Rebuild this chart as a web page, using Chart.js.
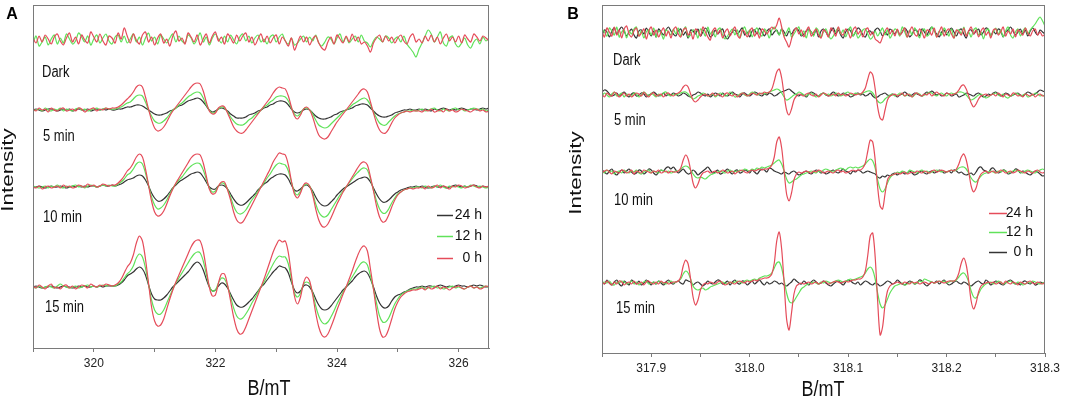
<!DOCTYPE html>
<html>
<head>
<meta charset="utf-8">
<script src="https://cdn.jsdelivr.net/npm/chart.js@4.4.1/dist/chart.umd.min.js"></script>
<style>
    html, body { margin: 0; padding: 0; background: #fff; }
    #wrap { position: relative; width: 1074px; height: 401px; }
    canvas { position: absolute; top: 0; }
    #chartA { left: 0; }
    #chartB { left: 537px; }
</style>
</head>
<body>
<div id="wrap">
    <canvas id="chartA" width="537" height="401"></canvas>
    <canvas id="chartB" width="537" height="401"></canvas>
</div>
<script>
// ---- data ----
// labels
const traceNames = ['Dark', '5 min', '10 min', '15 min'];
const legendLabels = ['24 h', '12 h', '0 h'];

// panel A: field sampled every 0.05 mT from 319 mT, values are signal above each trace's baseline
const aStart = 319, aStep = 0.05;
const aLevels = [308, 238, 161, 61];

const aDarkRed = [
    2,-3,4,-2,5,1,-4,3,6,-1, -5,2,7,-2,3,-4,5,0,-3,8, 3,-2,6,-1,-5,4,2,-3,7,1,
    12,4,-3,6,0,-4,5,8,-2,3, -5,2,6,-3,1,-6,4,9,-1,2, -4,7,3,-2,5,-5,1,6,-3,4,
    8,-1,3,-4,6,2,-3,5,-1,4, 7,-2,3,-5,1,6,-2,4,-3,2, 5,-4,3,-1,-6,2,-10,-3,4,-2,
    3,-5,1,4,-3,-8,-10,-2,3,-4, 5,1,-3,4,-2,6,-1,3,-4,-2, -6,-12,-3,2,5,-2,4,-1,3,-3,
    2,5,-1,-4,3,6,-2,1,-3,4, -1,5,-2,3,-4,2,6,-1,3,-2, 4,-3,5,1,-2,6,3,-1,4,2,-1
];
const aDarkGreen = [
    -3,4,-6,-2,3,-5,1,5,-4,2, -3,6,1,-4,-1,7,3,-2,4,-5, 1,5,-3,2,6,-1,-4,3,5,-2,
    4,-3,1,6,-2,3,-5,2,7,-1, 3,-4,5,1,-3,2,6,-2,4,-1, -3,5,2,-4,1,7,-2,3,-5,2,
    6,1,-3,4,-2,5,0,-4,3,6, -1,4,-3,2,5,-2,1,-4,3,5, -2,3,6,-1,-4,2,-5,-3,1,4,
    -2,3,-1,5,-3,-6,-2,3,1,-4, 2,6,-2,3,-3,1,4,-2,5,-1, -3,-7,-1,3,1,-2,4,2,-3,1,
    3,-2,4,-4,-8,-12,-17,-9,-3,4, 10,6,-2,3,8,-3,-6,2,4,-4, -7,-3,2,-5,-8,-2,1,-4,3,-1,2
];
const a5Red = [
    1,-1,2,0,1,-2,2,0,-1,1, 2,-1,0,1,-1,2,1,-2,0,1, 2,-1,1,0,2,1,2,
    2,3,5,8,11,14,18,23,25,23, 13,1,-10,-18,-21,-20,-17,-12,-6,-1,
    3,7,11,15,19,23,26,27,26,19, 8,-1,-4,-3,2,4,3,-3,-10,-17,
    -21,-23,-23,-20,-16,-12,-8,-4,0,4, 8,12,17,21,23,22,21,14,3,-6,
    -9,-5,1,3,0,-7,-17,-25,-28,-29, -27,-22,-17,-12,-8,-4,0,4,8,12,
    16,20,21,18,8,-3,-13,-20,-23,-23, -19,-13,-8,-5,-3,-2,-1,-2,-1,-1,
    -1,-2,0,-1,1,-2,-1,0,-2,1, -1,0,-2,-1,1,0,-1,-2,0,1, -1,0,-2,-1
];
const a5Green = [
    -1,0,1,-1,2,0,-1,1,0,2, -1,1,0,-1,1,2,0,1,-1,0, 1,2,0,1,2,1,1,
    1,2,3,5,7,8,11,14,15,14, 8,0,-6,-11,-13,-13,-11,-8,-4,0,
    2,5,7,10,13,15,17,18,17,12, 5,0,-3,-2,1,3,2,-2,-7,-11,
    -14,-15,-15,-13,-10,-8,-5,-3,0,3, 5,8,10,13,14,14,13,9,2,-4,
    -6,-3,1,2,0,-4,-10,-15,-17,-18, -17,-14,-11,-8,-5,-2,0,2,5,7,
    9,11,12,10,5,-2,-8,-13,-15,-15, -12,-9,-6,-4,-3,-2,-1,-1,0,-1,
    0,1,-1,0,1,2,0,-1,1,0, -1,1,2,0,1,-1,0,1,2,1, 0,1,-1,0
];
const a5Black = [
    0,1,0,-1,0,1,1,0,-1,0, 1,0,1,-1,0,1,0,0,1,-1, 0,1,0,1,0,1,0,
    0,1,1,2,3,3,4,5,5,4, 2,0,-2,-4,-5,-5,-4,-3,-1,0,
    2,4,5,7,9,10,11,12,11,8, 4,0,-2,-1,1,2,1,-1,-4,-6,
    -8,-8,-8,-7,-5,-4,-3,-1,0,2, 3,5,6,8,9,9,8,5,1,-2,
    -3,-2,0,1,0,-3,-6,-8,-9,-9, -8,-7,-5,-4,-2,-1,0,1,2,4,
    5,6,6,5,2,-1,-4,-6,-7,-7, -6,-5,-3,-2,-1,0,0,1,0,0,
    1,0,1,0,-1,1,0,1,2,1, 0,1,0,1,2,1,0,1,1,0, 1,2,1,2
];
const a10Red = [
    0,-1,1,-2,0,1,-1,0,1,-1, 2,0,1,-1,0,2,1,0,3,1, 2,0,1,3,2,1,2,
    2,4,7,11,16,19,24,30,33,30, 18,2,-14,-25,-29,-28,-24,-17,-9,-2,
    4,9,14,19,24,29,32,33,32,24, 11,-2,-7,-6,1,5,5,-3,-13,-25,
    -33,-36,-35,-30,-24,-18,-12,-6,0,6, 12,18,25,30,34,33,32,22,6,-7,
    -11,-6,2,4,1,-8,-22,-33,-39,-40, -37,-31,-24,-17,-11,-5,0,5,10,15,
    20,24,25,22,10,-4,-19,-30,-35,-34, -28,-20,-13,-8,-5,-3,-2,-1,-2,-1,
    -1,0,-2,1,-1,0,2,-1,1,0, -2,1,0,2,1,-1,0,1,2,0, -1,1,0,1
];
const a10Green = [
    1,0,-1,0,1,-1,1,0,2,0, -1,1,0,1,2,0,1,-1,1,2, 1,0,1,2,1,2,1,
    1,3,5,8,12,14,18,23,25,23, 14,2,-10,-18,-22,-21,-18,-13,-7,-1,
    3,7,10,14,18,21,23,24,23,17, 8,-1,-5,-4,1,4,3,-2,-10,-19,
    -25,-27,-26,-23,-18,-13,-9,-4,0,4, 9,13,18,22,24,23,22,16,5,-5,
    -8,-4,1,3,1,-6,-17,-25,-29,-30, -28,-23,-18,-13,-8,-4,0,4,8,12,
    15,18,19,17,8,-3,-14,-22,-26,-26, -22,-16,-11,-7,-5,-3,-2,-1,-1,0,
    0,-1,1,0,-1,1,0,2,0,-1, 1,0,1,0,-1,1,0,2,1,0, 1,0,-1,0
];
const a10Black = [
    0,0,1,0,-1,0,1,0,0,1, 0,-1,0,1,0,1,0,1,0,1, 1,0,1,2,1,1,2,
    1,2,3,5,7,8,9,11,12,11, 7,1,-6,-11,-14,-14,-12,-9,-5,-1,
    2,5,7,9,11,13,14,15,14,10, 5,0,-2,-2,1,2,1,-2,-7,-12,
    -16,-18,-18,-16,-13,-10,-7,-3,0,3, 5,8,10,12,13,13,12,8,2,-3,
    -4,-2,1,2,0,-4,-10,-15,-18,-19, -18,-15,-12,-8,-5,-2,0,2,4,6,
    8,9,10,9,5,-1,-7,-12,-15,-15, -13,-10,-7,-5,-3,-2,-1,0,0,1,
    0,1,0,-1,0,1,0,0,1,-1, 0,1,2,1,0,1,0,1,2,1, 0,1,0,0
];
const a15Red = [
    1,-1,2,0,-2,1,3,-1,0,-2, 1,2,-1,1,-2,0,2,1,-1,3, 1,0,2,1,3,2,1,
    2,4,8,14,20,24,32,44,51,46, 28,4,-20,-34,-39,-38,-32,-22,-12,-3,
    5,12,19,26,33,40,45,47,46,36, 18,0,-9,-8,4,13,13,2,-14,-30,
    -42,-47,-46,-40,-32,-24,-16,-8,0,8, 17,26,35,42,47,45,46,34,12,-9,
    -17,-10,4,10,6,-8,-26,-40,-48,-50, -47,-40,-32,-23,-15,-7,0,8,16,25,
    33,39,41,36,18,-2,-24,-42,-50,-49, -42,-32,-22,-15,-10,-7,-5,-4,-3,-3,
    -2,-1,-3,0,-2,-1,1,-2,0,-1, -3,-1,0,1,-1,-2,0,1,-1,0, -2,-1,1,0
];
const a15Green = [
    0,-1,1,-1,0,1,0,-1,1,3, 1,0,-1,0,1,-1,0,1,2,0, 1,0,1,2,1,2,1,
    1,3,5,9,13,16,21,29,33,30, 19,3,-13,-23,-27,-27,-23,-16,-9,-2,
    4,9,14,19,24,29,33,35,34,26, 13,1,-4,-3,4,9,8,1,-10,-21,
    -29,-32,-31,-27,-22,-16,-11,-5,0,5, 11,17,23,28,31,30,30,23,8,-6,
    -10,-6,3,5,3,-6,-19,-29,-35,-37, -35,-30,-24,-17,-11,-5,0,5,10,15,
    20,24,25,22,11,-2,-16,-29,-35,-35, -31,-24,-17,-12,-8,-6,-4,-3,-2,-2,
    -1,0,-2,-1,0,1,-1,0,-2,-1, 0,1,-1,0,-1,-2,0,1,-1,0, -1,0,1,-1
];
const a15Black = [
    0,1,0,-1,0,0,1,0,-1,0, 1,0,0,-1,0,1,0,1,0,0, 1,0,1,0,1,1,1,
    1,2,4,7,11,13,15,18,20,18, 12,2,-7,-12,-13,-13,-11,-8,-4,0,
    3,6,9,12,15,19,23,25,23,17, 8,0,-4,-3,1,4,3,-1,-7,-13,
    -18,-20,-20,-18,-15,-12,-8,-4,0,3, 7,11,15,18,21,20,19,14,5,-3,
    -6,-4,1,2,0,-5,-12,-18,-22,-23, -22,-19,-15,-11,-7,-3,0,3,6,10,
    13,15,16,14,8,0,-9,-16,-20,-21, -19,-14,-10,-8,-7,-5,-4,-2,-1,0,
    0,1,0,1,1,0,1,2,1,0, 1,0,1,2,1,1,0,1,2,1, 2,1,0,1
];

// panel B: field sampled every 0.0025 mT from 317.85 mT
const bStart = 317.85, bStep = 0.0025;
const bLevels = [320, 258, 181, 70];

const bDarkRed = [
    2,-4,5,1,-3,6,-2,3,-5,4, 7,-1,-4,2,5,-3,0,4,-6,2, 6,-2,3,-4,1,5,-3,2,-5,3,
    6,-1,-4,3,5,-2,1,-6,4,2, -3,6,1,-4,-7,2,5,-1,3,-5, 1,4,-3,2,6,-2,-5,3,1,-4,
    2,5,-3,1,-5,4,2,-1,3,6, 4,8,15,6,-4,-9,-14,-6,2,5, -1,3,-4,2,6,-3,1,4,-2,-5,
    3,1,-4,5,2,-3,6,0,-2,4, 1,-5,3,6,-1,2,-4,3,5,-2, 1,-6,-8,-10,-4,2,5,-1,3,-3,
    4,-2,1,5,-4,2,6,-1,-3,4, 1,-5,3,2,-2,5,-4,1,6,-3, 2,4,-1,-5,3,1,-2,5,-3,2,
    6,-1,3,-4,2,5,-2,1,-5,3, 4,-2,1,6,-3,2,-1,4,-4,3, 1,-2,5,0,-3,2,4,-2,1,-3,-1
];
const bDarkGreen = [
    4,1,-3,5,2,-2,6,-4,1,3, -5,2,-1,4,6,-3,2,-5,1,3, -2,5,-4,2,0,-6,3,1,-2,4,
    -1,5,-3,2,6,-4,-2,3,1,-5, 4,2,-3,6,-1,2,-4,3,5,-2, -6,-3,1,4,-2,3,-5,2,6,-1,
    3,-4,2,5,-1,-3,4,1,-5,3, 6,2,-2,4,-3,1,5,-4,-1,3, 6,-2,2,-5,3,1,-3,5,2,-4,
    1,4,-2,-6,-3,2,5,-1,3,-4, 2,6,-3,1,-5,-2,3,4,-1,-6, -4,2,-3,1,5,-2,3,-5,-1,4,
    2,-3,6,1,-4,3,-2,5,1,-5, 2,4,-3,-1,6,3,-4,2,-2,5, 1,-3,4,-5,2,3,-1,6,-2,1,
    -4,3,5,-2,1,-6,2,4,-3,1, 5,-1,3,-4,2,6,-2,-5,1,4, -3,2,5,-1,3,6,9,13,16,12,7
];
const bDarkBlack = [
    -2,3,1,-4,2,5,-1,3,6,2, -3,1,4,-2,-5,2,3,-1,5,1, -3,2,-4,4,1,-2,3,6,2,-1,
    -3,2,4,-2,1,-5,3,2,-1,4, -3,1,5,2,-4,-2,3,-1,2,4, -3,-6,-2,1,3,-1,2,5,-2,1,
    -4,2,3,-1,5,1,-3,2,4,-2, 1,3,-2,4,1,-3,2,-1,3,5, 2,-3,-1,2,4,1,-2,3,-4,2,
    4,1,-3,2,5,-1,3,-2,-5,1, 4,2,-3,1,5,3,-2,-4,1,2, -1,3,5,2,-3,1,-2,4,2,-1,
    3,-2,1,5,2,-4,-1,3,2,-3, 4,1,-2,3,6,2,-1,-4,1,3, -2,2,5,1,-3,2,4,-1,-5,2,
    3,-1,2,4,-2,1,5,3,-3,2, -1,4,2,-4,1,3,6,2,-2,1, 4,-1,3,-3,2,5,1,-2,3,1,-1
];
const b5Red = [
    1,-2,2,0,-1,3,1,-2,0,2, -1,1,-2,0,2,1,-1,3,0,-2, 1,2,-1,0,1,-2,1,2,0,-1,
    1,2,4,8,10,8,1,-5,-7,-5,-2,0,1,-1,0,
    2,-1,1,0,-2,1,2,0,-1,1, -2,0,2,1,-1,0,2,1,0,2, 1,3,
    2,3,6,14,23,26,17,0,-15,-20,-14,-5,-1,1,0,-1,
    1,2,0,-1,1,-2,0,2,1,-1, 0,1,-1,2,0,1,-1,0,2,1, 0,1,
    1,3,7,16,23,20,6,-12,-23,-25,-15,-5,-1,0,1,-1,
    0,2,-1,1,0,-2,1,2,0,-1, 1,0,2,-1,1,3,1,0,-1,2, 1,0,
    1,2,5,9,10,6,-1,-8,-12,-9,-4,-1,0,1,-1,0,
    1,-1,2,0,-2,1,0,-1,2,1, -1,0,-2,1,0,-1,1,-2,0,1, -1,0
];
const b5Green = [
    -1,2,0,-2,1,3,-1,0,2,-2, 1,0,-1,2,1,-2,0,3,1,-1, 2,0,-2,1,-1,2,3,0,-1,1,
    0,1,2,3,3,1,-2,-4,-3,-1,0,2,1,-1,0,
    1,-2,0,2,1,-1,0,3,1,-2, -1,1,2,0,-1,1,3,2,0,1, 2,1,
    2,3,4,5,6,5,2,-2,-5,-4,-2,0,1,3,2,0,
    -1,1,2,0,-2,-1,1,2,0,1, -1,0,2,1,-1,0,2,3,1,0, 2,1,
    1,2,3,4,4,2,-2,-6,-8,-7,-4,-2,0,1,-1,0,
    2,1,-1,0,1,-2,0,2,1,-1, 0,1,3,2,0,-1,1,2,0,-1, 1,2,
    1,2,3,3,2,0,-3,-5,-4,-2,0,1,-1,-3,-2,0,
    1,2,0,-1,1,-2,-3,-1,0,2, 1,-1,0,1,-2,-1,0,2,1,-1, 0,-2
];
const b5Black = [
    3,5,4,1,-1,0,2,-1,1,3, 0,-2,1,2,-1,0,2,1,-2,0, 1,3,1,-1,0,2,-1,1,0,2,
    1,-1,0,2,1,-1,-2,0,1,3, 2,0,-1,1,-2,0,2,1,-1,2, 0,-1,1,3,1,0,-2,1,2,0,
    -1,1,3,2,0,-1,1,0,2,1, -1,0,2,3,4,5,6,4,2,0, -1,1,0,-2,1,3,2,0,-1,1,
    2,0,-1,1,3,1,-1,0,2,1, 0,-2,-1,1,2,0,1,-1,0,2, -1,-3,-2,0,1,2,0,-1,1,0,
    -2,0,1,3,1,-1,0,2,1,0, -1,1,3,2,4,2,0,1,-1,0, 2,1,-1,0,1,-2,-1,0,2,1,
    0,-1,1,2,0,-2,-1,1,0,2, 3,1,-1,0,2,1,-1,0,1,2, 0,-1,1,3,2,0,1,3,5,4,3
];
const b10Red = [
    -1,1,2,0,-2,1,0,-1,2,1, -1,0,2,-2,1,0,-1,2,1,0, -1,1,0,2,-1,0,1,-1,1,0,
    0,1,4,12,17,13,2,-11,-16,-12,-5,-1,0,1,-1,
    0,1,-1,0,2,1,-1,0,1,-2, 0,1,2,0,-1,1,2,1,2,3, 2,3,
    3,4,7,15,30,35,24,1,-22,-29,-21,-8,-2,0,-1,0,
    1,0,-1,1,0,2,1,-1,0,1, 0,-1,1,2,0,1,-1,0,1,2, 1,2,
    2,4,9,21,32,30,12,-15,-34,-37,-22,-8,-4,-3,-2,-1,
    -2,-1,0,-2,-1,0,-1,1,0,-1, 1,0,-1,1,2,0,1,2,1,0, 1,2,
    1,3,8,15,18,12,0,-14,-20,-16,-7,-2,0,1,-1,0,
    1,-1,0,2,1,-1,0,1,-1,0, 2,1,0,-1,1,0,-1,1,2,0, -1,0
];
const b10Green = [
    1,-1,2,0,1,-2,0,1,-1,2, 0,-1,1,0,2,-1,-2,0,1,2, -1,1,0,-1,2,1,0,1,-1,0,
    1,1,3,5,6,5,2,-2,-5,-6,-5,-6,-7,-5,-3,
    -2,-1,0,1,0,-1,1,2,0,1, 0,2,1,3,2,1,3,2,4,3, 5,4,
    5,6,7,9,11,12,8,1,-7,-11,-10,-8,-7,-5,-3,-2,
    -1,0,1,0,-1,1,0,2,3,2, 1,0,2,3,4,3,2,4,5,4, 5,4,
    5,6,8,11,13,11,4,-8,-17,-20,-17,-11,-6,-3,-2,0,
    -1,1,0,-1,2,1,0,-1,1,2, 0,1,-1,0,1,2,1,0,1,0, 1,2,
    1,2,4,5,5,3,-1,-6,-9,-10,-7,-4,-2,-1,0,1,
    0,-1,1,0,2,1,-1,0,1,2, 1,0,-1,1,2,1,0,-1,1,2, 3,2
];
const b10Black = [
    2,0,-2,1,3,-1,-3,0,2,-1, 1,3,0,-2,-1,2,1,-2,0,3, 2,-1,-3,0,2,1,4,5,3,5,
    2,-1,1,3,0,-2,-1,2,0,-3, -1,1,3,5,2,-1,0,2,-2,-1, 1,3,0,-2,1,2,-1,0,2,1,
    -1,2,0,-2,1,3,2,0,4,3, 1,0,-1,-2,0,-1,-2,0,1,-1, -3,-2,0,1,-1,-2,0,2,1,-1,
    0,-2,-1,1,2,0,-1,1,3,1, 0,-2,1,0,2,1,-1,0,1,0, -1,-2,-5,-6,-4,-5,-3,-4,-2,-1,
    -3,-1,0,-2,-1,1,-1,-3,-2,0, 1,-1,-2,0,1,-1,0,2,1,-1, 0,1,-1,2,1,-1,0,-2,-3,-2,
    -1,-3,0,4,5,2,1,-1,3,4, 1,-1,0,2,1,-2,-1,0,3,2, -1,1,0,-2,-3,-1,1,0,-2,-4,-3
];
const b15Red = [
    1,-1,2,0,-2,1,-1,2,1,-2, 0,1,-1,2,-1,0,1,-2,1,2, 0,-1,1,-1,2,0,1,-1,0,1,
    1,2,6,17,23,19,4,-14,-22,-17,-7,-2,0,-1,1,
    0,-1,1,2,0,-2,-1,1,0,-1, 1,2,1,0,2,1,2,3,2,4, 4,5,
    5,6,9,20,42,51,34,0,-36,-47,-30,-11,-3,-1,0,-1,
    0,1,-1,0,1,-1,0,2,1,-1, 0,1,2,1,0,1,2,1,2,3, 3,4,
    4,6,12,28,47,50,26,-18,-52,-44,-22,-8,-3,-1,0,1,
    0,-1,1,0,-1,1,0,1,-1,0, 1,0,-1,1,0,1,2,1,0,1, 2,2,
    2,4,10,20,25,18,2,-18,-26,-20,-9,-3,-1,0,1,0,
    1,-1,0,1,-1,2,0,-1,1,0, -2,1,0,-1,1,2,0,-1,1,0, -1,1
];
const b15Green = [
    -1,1,0,2,-1,-2,1,0,2,1, -1,0,2,-1,1,-2,0,1,2,-1, 0,1,-1,2,1,0,-1,1,2,0,
    1,2,4,9,12,10,4,-3,-6,-7,-6,-5,-7,-6,-4,
    -3,-2,-1,0,1,0,-1,1,0,1, 2,1,0,2,3,2,3,4,3,5, 6,7,
    7,8,10,15,20,21,15,3,-10,-18,-20,-18,-14,-10,-6,-4,
    -2,-1,0,1,0,-1,1,0,2,1, 0,1,2,3,2,1,2,3,4,3, 4,5,
    6,7,10,14,16,13,4,-10,-21,-25,-22,-16,-10,-6,-3,-2,
    -1,0,-2,-1,0,1,-1,0,2,1, 4,3,2,1,0,1,2,1,2,0, 1,2,
    2,3,6,9,10,7,1,-8,-14,-15,-11,-6,-3,-1,0,1,
    -1,0,2,1,-1,0,1,2,0,-1, 1,0,-2,-1,1,0,2,1,0,-1, 0,1
];
const b15Black = [
    2,-1,3,0,-2,1,3,-1,-3,2, 0,-2,3,1,-1,2,-2,0,3,1, -2,1,-1,2,0,-2,1,3,0,-1,
    1,2,0,-1,3,2,1,-2,0,1, -1,-3,-1,2,0,-1,1,3,2,-1, 0,2,-2,1,3,0,-1,2,1,-2,
    0,2,-1,1,3,0,-2,1,-1,0, 2,1,-1,0,-2,-3,-1,1,4,2, 0,-1,2,0,-2,1,3,1,-1,0,
    2,0,-2,-3,-1,1,2,0,-2,1, 3,2,0,-1,1,-2,0,2,1,-1, -2,0,-1,-3,-2,0,2,1,-1,0,
    3,1,-1,-2,0,2,1,-1,0,3, 2,-1,-3,-1,1,0,2,-1,1,3, 0,-2,-1,1,2,0,-1,1,0,-2,
    -3,-1,1,2,0,-1,3,1,-2,0, 2,1,-1,-2,0,2,3,1,-1,0, -2,1,2,0,-1,1,-2,-1,1,0,-1
];

// ---- styling ----
const RED = 'rgb(229, 76, 90)';
const GREEN = 'rgb(96, 226, 90)';
const BLACK = 'rgb(52, 52, 52)';
const AXIS = '#7a7a7a';
const FONT = "'Liberation Sans', Arial, sans-serif";

function trace(values, start, step, level, label, color) {
    return {
        label: label,
        data: values.map((v, i) => ({ x: start + i * step, y: level + v })),
        borderColor: color,
        borderWidth: 1.2,
        pointRadius: 0,
        fill: false,
        tension: 0.3,
    };
}

function drawText(ctx, text, x, y, size, opts) {
    const o = opts || {};
    ctx.save();
    ctx.translate(x, y);
    ctx.scale(1, o.stretch || 1);
    if (o.rotate) ctx.rotate(-Math.PI / 2);
    ctx.font = (o.bold ? 'bold ' : '') + size + 'px ' + FONT;
    ctx.fillStyle = o.color || '#111';
    ctx.textAlign = o.align || 'left';
    ctx.textBaseline = 'middle';
    ctx.fillText(text, 0, 0);
    ctx.restore();
}

// frame, panel letter, axis titles, trace names and the inset legend
const panelDecor = {
    id: 'panelDecor',
    afterDraw(chart, args, p) {
        const { ctx, chartArea: a } = chart;
        ctx.save();
        ctx.strokeStyle = AXIS;
        ctx.lineWidth = 1;
        ctx.strokeRect(Math.round(a.left) + 0.5, Math.round(a.top) + 0.5,
            Math.round(a.right - a.left) - 1, Math.round(a.bottom - a.top));
        ctx.restore();

        drawText(ctx, p.letter, p.letterPos[0], p.letterPos[1], 16, { bold: true, align: 'center', color: '#000' });
        drawText(ctx, 'Intensity', p.yTitlePos[0], p.yTitlePos[1], 16, { rotate: true, align: 'center', stretch: 1.4 });
        drawText(ctx, 'B/mT', p.xTitlePos[0], p.xTitlePos[1], 18, { align: 'center', stretch: 1.2 });

        traceNames.forEach((name, i) => {
            drawText(ctx, name, p.namePos[i][0], p.namePos[i][1], 13, { stretch: 1.2 });
        });

        legendLabels.forEach((lab, i) => {
            const ds = chart.data.datasets.find(d => d.label === lab);
            const y = p.legendY[i];
            ctx.save();
            ctx.strokeStyle = ds.borderColor;
            ctx.lineWidth = 1.5;
            ctx.beginPath();
            ctx.moveTo(p.legendX[0], y + 0.5);
            ctx.lineTo(p.legendX[1], y + 0.5);
            ctx.stroke();
            ctx.restore();
            drawText(ctx, lab, p.legendX[2], y, 14, { align: 'right' });
        });
    }
};

function makeChart(id, datasets, xCfg, yMax, pad, xHeight, decor) {
    return new Chart(document.getElementById(id), {
        type: 'line',
        data: { datasets: datasets },
        plugins: [panelDecor],
        options: {
            responsive: false,
            animation: false,
            layout: { padding: pad },
            plugins: { legend: { display: false }, tooltip: { enabled: false }, panelDecor: decor },
            scales: {
                x: Object.assign({
                    type: 'linear',
                    afterFit(s) { s.height = xHeight; },
                    border: { display: true, color: AXIS, width: 1 },
                    grid: { display: true, drawOnChartArea: false, drawTicks: true, tickLength: 4, color: AXIS },
                }, xCfg),
                y: { display: false, min: 0, max: yMax },
            },
        },
    });
}

const tickFont = { family: FONT, size: 12 };

// ---- panel A ----
const aData = [
    trace(aDarkRed, aStart, aStep, aLevels[0], '0 h', RED),
    trace(aDarkGreen, aStart, aStep, aLevels[0], '12 h', GREEN),
];
[[a5Red, a5Green, a5Black], [a10Red, a10Green, a10Black], [a15Red, a15Green, a15Black]].forEach((g, k) => {
    aData.push(trace(g[0], aStart, aStep, aLevels[k + 1], '0 h', RED));
    aData.push(trace(g[1], aStart, aStep, aLevels[k + 1], '12 h', GREEN));
    aData.push(trace(g[2], aStart, aStep, aLevels[k + 1], '24 h', BLACK));
});

makeChart('chartA', aData, {
    min: 319, max: 326.5,
    ticks: {
        stepSize: 1, includeBounds: false, autoSkip: false, maxRotation: 0, padding: 4,
        color: '#222', font: tickFont,
        callback: v => (Math.round(v) % 2 === 0 ? String(Math.round(v)) : ''),
    },
}, 343, { left: 33, right: 48, top: 5, bottom: 0 }, 53, {
    letter: 'A', letterPos: [12, 15],
    yTitlePos: [9, 170], xTitlePos: [269, 389],
    namePos: [[42, 73], [43, 137], [43, 218], [45, 308]],
    legendX: [437, 453, 482], legendY: [215, 236, 258],
});

// ---- panel B ----
const bData = [];
[[b5Red, b5Green, b5Black], [b10Red, b10Green, b10Black], [b15Red, b15Green, b15Black]].forEach((g, k) => {
    bData.push(trace(g[0], bStart, bStep, bLevels[k + 1], '24 h', RED));
    bData.push(trace(g[1], bStart, bStep, bLevels[k + 1], '12 h', GREEN));
    bData.push(trace(g[2], bStart, bStep, bLevels[k + 1], '0 h', BLACK));
});
bData.push(trace(bDarkRed, bStart, bStep, bLevels[0], '24 h', RED));
bData.push(trace(bDarkGreen, bStart, bStep, bLevels[0], '12 h', GREEN));
bData.push(trace(bDarkBlack, bStart, bStep, bLevels[0], '0 h', BLACK));

makeChart('chartB', bData, {
    min: 317.85, max: 318.3,
    ticks: {
        stepSize: 0.05, autoSkip: false, maxRotation: 0, padding: 4,
        color: '#222', font: tickFont,
        callback: v => {
            const k = Math.round(v * 20);
            return k % 2 === 0 ? (k / 20).toFixed(1) : '';
        },
    },
}, 348, { left: 65, right: 29, top: 5, bottom: 0 }, 48, {
    letter: 'B', letterPos: [36, 15],
    yTitlePos: [40, 173], xTitlePos: [286, 390],
    namePos: [[76, 61], [77, 121], [77, 201], [79, 309]],
    legendX: [452, 470, 496], legendY: [213, 232, 252],
});
</script>
</body>
</html>
